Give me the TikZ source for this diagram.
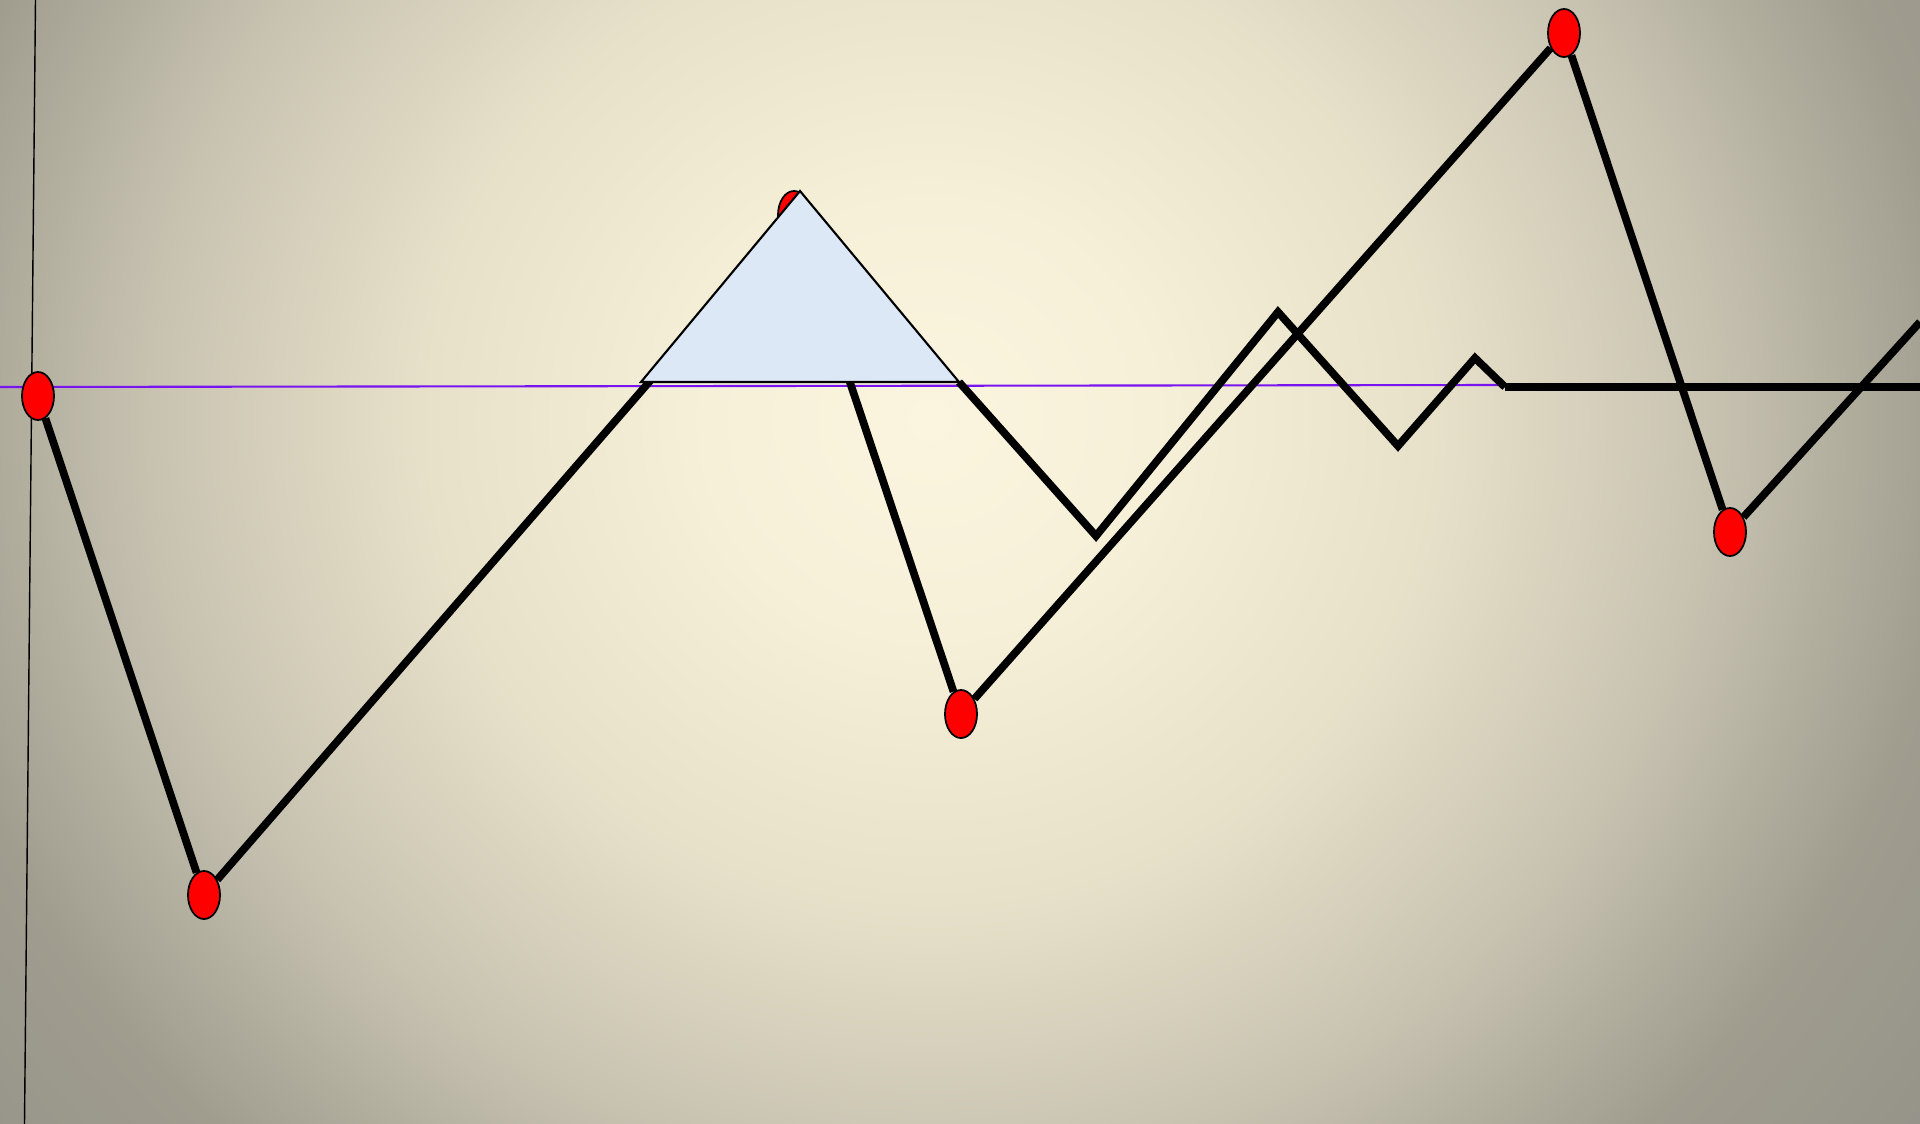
\documentclass[tikz,border=0pt]{standalone}
\usetikzlibrary{shapes.geometric}
\definecolor{bga}{RGB}{251,245,223}
\definecolor{bgb}{RGB}{246,240,217}
\definecolor{bgc}{RGB}{232,225,202}
\definecolor{bgd}{RGB}{200,195,177}
\definecolor{bge}{RGB}{160,157,143}
\definecolor{bgf}{RGB}{149,146,137}
\definecolor{violetline}{RGB}{120,20,240}
\definecolor{paleblue}{RGB}{220,232,246}
\pgfdeclareradialshading{bgglow}{\pgfpoint{0bp}{0bp}}{color(0bp)=(bga); color(4.5bp)=(bgb); color(10bp)=(bgc); color(15.5bp)=(bgd); color(20.5bp)=(bge); color(25bp)=(bgf); color(50bp)=(bgf)}
\begin{document}
\begin{tikzpicture}[x=0.01cm,y=-0.01cm,
  dot/.style={ellipse,draw=black,line width=0.5pt,fill=red,minimum width=0.32cm,minimum height=0.48cm,inner sep=0pt},
  wire/.style={line width=2.2pt,line join=miter}]
\useasboundingbox (0,0) rectangle (1920,1124);
\begin{scope}
\clip (0,0) rectangle (1920,1124);
\shade[shading=bgglow] (-320,-780) rectangle (2180,1620);
\end{scope}
\coordinate (v1) at (35.5,0);
\coordinate (v2) at (24.5,1124);
\coordinate (h1) at (0,387);
\coordinate (h2) at (1505,385);
\coordinate (t1) at (641,382);
\coordinate (t2) at (800,191);
\coordinate (t3) at (959,382);
\coordinate (z1) at (1096,536);
\coordinate (z2) at (1278,312);
\coordinate (z3) at (1398,446);
\coordinate (z4) at (1475,358);
\coordinate (z5) at (1505,387);
\coordinate (z6) at (1920,387);
\coordinate (rEnd) at (1920,322);
\draw[line width=0.4pt] (v1) -- (v2);
\draw[violetline,line width=0.6pt] (h1) -- (h2);
\node[dot] (A) at (38,396) {};
\node[dot] (B) at (204,895) {};
\node[dot] (P) at (794,215) {};
\node[dot] (C) at (961,714) {};
\node[dot] (D) at (1564,33) {};
\node[dot] (E) at (1730,532) {};
\draw[wire] (A) -- (B) -- (P) -- (C) -- (D) -- (E) -- (rEnd);
\draw[wire] (t3) -- (z1) -- (z2) -- (z3) -- (z4) -- (z5);
\draw[line width=2.5pt] (z5) -- (z6);
\draw[fill=paleblue,line width=0.6pt,line join=miter] (t1) -- (t2) -- (t3) -- cycle;
\end{tikzpicture}
\end{document}
